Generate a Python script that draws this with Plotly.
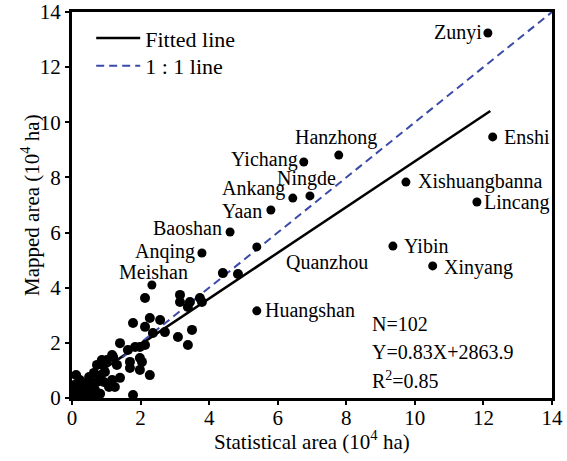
import plotly.graph_objects as go

# Named cities (statistical area, mapped area), 10^4 ha
city_names = ["Zunyi", "Enshi", "Xishuangbanna", "Lincang", "Yibin", "Xinyang",
              "Hanzhong", "Yichang", "Ningde", "Ankang", "Yaan", "Baoshan",
              "Anqing", "Huangshan", "Quanzhou", "Meishan"]
city_x = [12.13, 12.27, 9.74, 11.81, 9.36, 10.52, 7.78, 6.76, 6.94, 6.44, 5.80, 4.61,
          3.79, 5.39, 5.39, 2.33]
city_y = [13.24, 9.47, 7.83, 7.11, 5.51, 4.79, 8.81, 8.56, 7.33, 7.25, 6.82, 6.02,
          5.26, 3.16, 5.48, 4.10]

# Other (unlabelled) cities
other_x = [4.40, 4.84, 2.13, 3.15, 3.15, 3.44, 3.73, 3.79, 3.38, 2.27, 2.57, 1.78, 2.13,
           2.36, 2.71, 3.50, 3.09, 3.38, 1.40, 1.63, 1.84, 1.98, 2.13, 1.02, 1.20, 1.98,
           2.04, 1.69, 0.90, 1.69, 1.98, 2.27, 1.17, 0.87, 0.73, 1.31, 0.64, 0.96, 0.50,
           0.82, 1.17, 1.40, 1.08, 1.25, 0.29, 0.09, 0.38, 0.67, 1.78, 0.05, 0.17, 0.23,
           0.12, 0.17, 0.41, 0.52, 0.29, 0.67, 0.82, 0.47, 0.06, 0.03, 0.35, 0.58, 0.73,
           0.93, 0.10, 0.20, 0.30, 0.14, 0.25, 0.44]
other_y = [4.53, 4.50, 3.63, 3.74, 3.48, 3.48, 3.63, 3.48, 3.30, 2.90, 2.83, 2.72, 2.58,
           2.36, 2.39, 2.47, 2.21, 1.92, 1.99, 1.74, 1.85, 1.85, 1.92, 1.38, 1.49, 1.45,
           1.31, 1.31, 1.20, 1.09, 1.02, 0.83, 1.56, 1.38, 1.20, 1.20, 0.91, 0.94, 0.76,
           0.73, 0.65, 0.73, 0.40, 0.40, 0.47, 0.18, 0.29, 0.29, 0.11, 0.07, 0.29, 0.65,
           0.83, 0.51, 0.54, 0.11, 0.07, 0.07, 0.15, 0.36, 0.47, 0.22, 0.15, 0.54, 0.58,
           0.58, 0.02, 0.05, 0.20, 0.40, 0.12, 0.30]

slope = 0.83
intercept = 0.28639  # 2863.9 ha in 10^4 ha
fit_x = [0, 12.2]
one_x = [0, 14]

x_title = "Statistical area (10<sup>4</sup> ha)"
y_title = "Mapped area (10<sup>4</sup> ha)"

# label placement (xanchor, xshift, yshift)
label_pos = {
    "Zunyi": ("right", -4, 0), "Enshi": ("left", 9, 0),
    "Xishuangbanna": ("left", 10, 1), "Lincang": ("left", 5, -1),
    "Yibin": ("left", 9, 0), "Xinyang": ("left", 9, -2),
    "Hanzhong": ("center", -3, 18), "Yichang": ("right", -4, 2),
    "Ningde": ("center", -3, 17), "Ankang": ("right", -6, 10),
    "Yaan": ("right", -7, -1), "Baoshan": ("right", -6, 4),
    "Anqing": ("right", -5, 1), "Huangshan": ("left", 6, 0),
    "Quanzhou": ("left", 27, -15), "Meishan": ("center", 2, 13),
}

serif = "Liberation Serif"

fig = go.Figure()
fig.add_trace(go.Scatter(x=fit_x, y=[slope * v + intercept for v in fit_x], mode="lines",
                         line=dict(color="black", width=2.5), name="Fitted line",
                         legend="legend"))
fig.add_trace(go.Scatter(x=one_x, y=one_x, mode="lines",
                         line=dict(color="#3a4aa8", width=2, dash="8px,5px"), name="1 : 1 line",
                         legend="legend2"))
fig.add_trace(go.Scatter(x=other_x, y=other_y, mode="markers",
                         marker=dict(color="black", size=10), showlegend=False))
fig.add_trace(go.Scatter(x=city_x, y=city_y, mode="markers",
                         marker=dict(color="black", size=9), showlegend=False))

for n, cx, cy in zip(city_names, city_x, city_y):
    xa, xs, ys = label_pos[n]
    fig.add_annotation(x=cx, y=cy, text=n, showarrow=False, xanchor=xa, yanchor="middle",
                       xshift=xs, yshift=ys, font=dict(family=serif, size=20, color="black"))

for txt, yy in [("N=102", 2.68), ("Y=0.83X+2863.9", 1.67), ("R<sup>2</sup>=0.85", 0.65)]:
    fig.add_annotation(x=8.69, y=yy, text=txt, showarrow=False, xanchor="left",
                       yanchor="middle", font=dict(family=serif, size=20, color="black"))

# axis titles
fig.add_annotation(xref="paper", yref="paper", x=0.5, y=-0.111, text=x_title,
                   showarrow=False, xanchor="center", yanchor="middle",
                   font=dict(family=serif, size=21, color="black"))
fig.add_annotation(xref="paper", yref="paper", x=-0.0875, y=0.5, text=y_title,
                   showarrow=False, xanchor="center", yanchor="middle", textangle=-90,
                   font=dict(family=serif, size=21, color="black"))

axis_common = dict(range=[0, 14], dtick=2, showgrid=False, zeroline=False, showline=True,
                   linecolor="black", linewidth=3, mirror=True, ticks="outside",
                   ticklen=4, tickwidth=2, tickcolor="black", automargin=False,
                   tickfont=dict(family=serif, size=21, color="black"))

leg_common = dict(xanchor="left", yanchor="middle", bgcolor="rgba(0,0,0,0)",
                  itemwidth=44, font=dict(family=serif, size=22, color="black"))

fig.update_layout(
    width=567, height=461,
    margin=dict(l=72, r=15, t=12, b=63),
    paper_bgcolor="white", plot_bgcolor="white",
    font=dict(family=serif, color="black"),
    xaxis=dict(**axis_common, ticklabelstandoff=-5),
    yaxis=dict(**axis_common),
    legend=dict(x=0.04, y=0.932, **leg_common),
    legend2=dict(x=0.04, y=0.860, **leg_common),
    showlegend=True,
)

fig.write_html("out.html")
